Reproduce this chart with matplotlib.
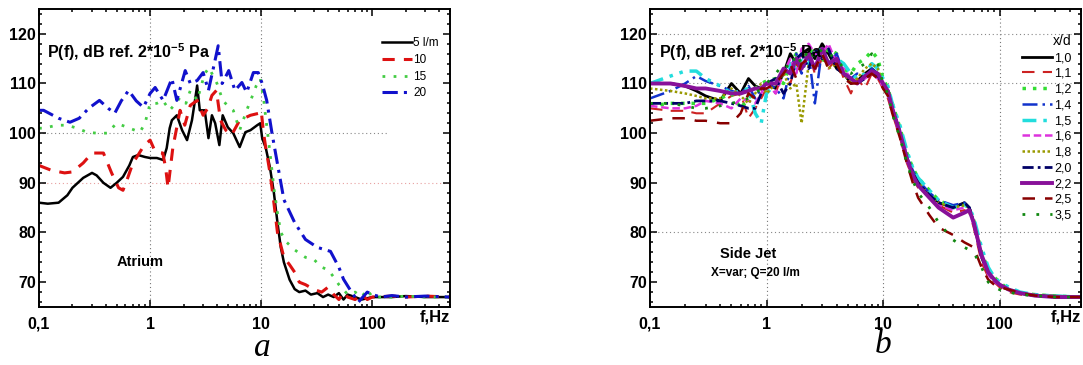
import matplotlib
matplotlib.use("Agg")
import matplotlib.pyplot as plt
from matplotlib.ticker import FixedLocator, MultipleLocator, LogLocator, NullFormatter

plt.rcParams['font.family'] = ['Liberation Sans', 'DejaVu Sans']
plt.rcParams['mathtext.fontset'] = 'custom'
plt.rcParams['mathtext.rm'] = 'Liberation Sans'
plt.rcParams['mathtext.bf'] = 'Liberation Sans:bold'

# ---------------- data: panel a (Atrium) ----------------
f_5 = [0.1, 0.12, 0.15, 0.18, 0.2, 0.25, 0.3, 0.33, 0.38, 0.44, 0.5, 0.57, 0.65, 0.7, 0.78, 0.9, 1.0, 1.15,
       1.31, 1.41, 1.5, 1.57, 1.74, 1.94, 2.15, 2.38, 2.55, 2.65, 2.8, 3.1, 3.35, 3.6, 3.85, 4.2, 4.5, 5.0,
       5.6, 6.4, 7.2, 8.0, 9.2, 9.8, 10.2, 11, 12, 13, 14, 15, 16, 18, 20, 22, 25, 28, 32, 36, 40, 45, 50,
       55, 60, 70, 80, 100, 150, 200, 300, 500]
p_5 = [86, 85.8, 86, 87.5, 89, 91, 92, 91.5, 90, 89, 90, 91.2, 93.5, 95.2, 95.6, 95.2, 95, 95,
       94.6, 97, 101, 102.6, 103.6, 100.6, 98.6, 102.6, 107, 109.6, 104.6, 104.6, 99, 103.6, 102, 97.6, 103.6, 101.2,
       100, 97.2, 100.2, 100.6, 101.6, 102, 99, 97, 93, 88, 82, 77, 74, 70.5, 68.6, 68, 68.3, 67.5, 67.8, 67, 67.5, 67, 67.8,
       66.5, 67.5, 67, 66.5, 67, 67, 67.2, 67, 67]

f_10 = [0.1, 0.13, 0.17, 0.2, 0.25, 0.3, 0.38, 0.45, 0.52, 0.57, 0.62, 0.7, 0.76, 0.88, 1.0, 1.1, 1.15, 1.3,
        1.38, 1.45, 1.6, 1.86, 2.05, 2.3, 2.65, 3.0, 3.3, 3.6, 3.95, 4.3, 4.8, 5.4, 6.4, 8.0, 9.5, 10, 10.5,
        11, 12, 13, 14, 16, 18, 20, 22, 25, 30, 35, 40, 45, 50, 55, 60, 70, 80, 90, 100, 150, 200, 300, 500]
p_10 = [93.5, 92.5, 92, 92.2, 94, 96, 96, 92, 89, 88.5, 90.6, 94, 95.2, 97.5, 98.6, 96.5, 96.2, 96,
        93, 89, 97, 104.6, 101.6, 105.6, 106.6, 103.6, 105, 107.6, 108.6, 102.6, 100.6, 99.6, 102.6, 103.6, 104, 104.5, 100,
        97, 92, 86, 80, 75, 73.5, 72, 70, 69.5, 68.5, 68, 69, 67.5, 66.5, 68, 67, 66.5, 67.5, 66.5, 67, 67.2, 67, 67.2, 67]

f_15 = [0.1, 0.11, 0.145, 0.18, 0.22, 0.27, 0.33, 0.41, 0.5, 0.62, 0.81, 0.9, 1.0, 1.15, 1.3, 1.5, 1.7, 1.86,
        2.1, 2.3, 2.65, 3.1, 3.4, 3.6, 4.0, 4.5, 5.0, 5.6, 6.4, 7.4, 8.5, 9.0, 9.8, 10.5, 11, 12, 13, 14, 15,
        17, 20, 25, 30, 35, 40, 45, 50, 55, 60, 70, 80, 90, 100, 150, 200, 300, 500]
p_15 = [101, 101, 101.6, 101.6, 101, 100.2, 100, 100, 102, 101.2, 100.2, 102, 106, 106, 106.6, 104.6, 106, 107.2,
        106, 108.6, 106.6, 112, 113.2, 112, 110, 106.6, 105.5, 104.6, 100.6, 104.6, 108, 109.5, 111, 107, 103, 96, 89, 84, 80,
        78, 76.5, 75, 74.5, 73, 72.5, 71, 69.5, 68.5, 67.5, 68, 67, 68.5, 67, 67, 67.2, 67, 67]

f_20 = [0.1, 0.11, 0.15, 0.19, 0.23, 0.28, 0.35, 0.42, 0.48, 0.55, 0.64, 0.75, 0.87, 1.0, 1.11, 1.31, 1.57, 1.74,
        2.07, 2.3, 2.65, 3.0, 3.35, 3.7, 4.1, 4.45, 5.1, 5.8, 6.7, 7.4, 8.5, 9.4, 10.2, 11.2, 12.5, 13.8, 16,
        20, 25, 32, 42, 50, 55, 65, 75, 90, 100, 120, 150, 200, 300, 500]
p_20 = [104.6, 104.6, 103, 102.2, 103, 105, 106.6, 105, 104, 106.5, 108.6, 106.5, 105.2, 108, 109.2, 106.6, 111, 106.6,
        112.6, 110, 110.6, 112.2, 108.6, 113, 117.6, 110, 112.6, 108.6, 110.2, 108.2, 112.2, 112.2, 110, 106.6, 100, 94.6, 86.6,
        82, 78.6, 77, 76.2, 73, 70.6, 68, 66, 68, 67.5, 67, 67.3, 67, 67.2, 67]

labels_a = ["5 l/m", "10", "15", "20"]

# ---------------- data: panel b (Side Jet) ----------------
f_b = [0.1, 0.15, 0.2, 0.25, 0.3, 0.4, 0.5, 0.6, 0.7, 0.8, 0.9, 1.0, 1.2, 1.4, 1.6, 1.8, 2.0, 2.3, 2.6, 3.0,
       3.4, 4.0, 4.6, 5.3, 6.0, 7.0, 8.0, 9.0, 10, 11, 12, 14, 16, 18, 20, 25, 30, 40, 50, 55,
       60, 70, 80, 90, 100, 120, 150, 200, 300, 500]
p_x10 = [110, 110, 109.5, 108.5, 107.5, 106.5, 110, 108, 111, 109.5, 109, 110, 109, 112, 116, 114, 116, 117, 115, 118,
         116, 113, 112, 110, 110.5, 112, 113, 112, 110, 108.5, 105, 100, 95, 92, 90, 87.5, 86, 85, 86, 85,
         82, 75, 72, 70.5, 69.5, 68.5, 67.8, 67.3, 67.2, 67]
p_x11 = [105, 104.5, 104.5, 104, 104, 106, 107.5, 108, 103, 105, 107, 109, 108, 113, 110, 114, 112, 116, 112, 115,
         113, 115, 111, 108, 111, 109, 112, 111, 109, 107, 104, 99, 94, 91, 89, 87, 85.5, 84, 84.5, 84,
         81, 74, 71, 70, 69, 68, 67.5, 67.2, 67, 67]
p_x12 = [105.5, 106, 106, 106, 106, 107, 108, 105, 107, 109, 110, 110.5, 111, 110, 114, 116, 113, 117, 116, 114,
         117, 116, 113, 112, 114, 115, 116.5, 115, 111, 109, 106, 101, 96, 93, 91, 88.5, 86.5, 85, 85.5, 84.5,
         82.5, 76, 72.5, 71, 70, 68.5, 67.8, 67.5, 67.2, 67]
p_x14 = [107, 108.5, 110, 111.5, 110.5, 109.5, 108.5, 108, 109.5, 107, 109, 110, 109, 107, 113, 116, 112, 116, 106, 117,
         114, 116, 112, 111, 112, 111, 113, 112, 110.5, 108.5, 105, 100.5, 95.5, 92.5, 90.5, 88, 86.5, 85.5, 86, 85,
         82, 75.5, 72, 70.5, 69.5, 68.5, 67.8, 67.3, 67.2, 67]
p_x15 = [110, 111.5, 112.5, 112.5, 111, 109.5, 108, 108.5, 109, 104, 102, 108, 110, 112, 114, 113, 115, 114, 116, 117,
         114, 115, 114, 112, 111, 112, 114, 113, 111, 109.5, 106, 101.5, 96.5, 93, 91, 88.5, 86.5, 85, 85.5, 85,
         83, 77, 73, 71, 70, 69, 68, 67.5, 67.2, 67]
p_x16 = [105.5, 105, 105, 105.5, 106.5, 106, 105, 107, 106.5, 106, 108, 110, 108, 112, 115, 112, 117, 118, 116, 116,
         118, 114, 113, 111, 110, 111, 112, 111, 109.5, 108, 104.5, 99.5, 94.5, 91.5, 89.5, 87, 85.5, 84.5, 85, 84.5,
         81.5, 75, 71.5, 70, 69.5, 68.5, 67.8, 67.3, 67, 67]
p_x18 = [109, 108.5, 108, 107.5, 107, 107, 109, 107.5, 106, 108, 110, 108, 110, 112, 109, 110, 102, 114, 113, 116,
         113, 114, 112, 110, 111, 113, 114, 113, 110, 108.5, 105, 100, 95, 92, 90, 87.5, 86, 85, 85.5, 85,
         82, 75.5, 72, 70.5, 69.5, 68.5, 67.8, 67.3, 67.2, 67]
p_x20 = [106, 106, 106, 106.5, 106.5, 106.5, 106, 105.5, 105, 105, 108, 110, 111, 108, 110, 115, 116, 113, 117, 115,
         117, 113, 112, 111, 110, 111, 112, 111.5, 110, 108.5, 105, 100, 95, 92, 90, 87.5, 86, 85, 86, 85,
         82, 75, 72, 70.5, 69.5, 68.5, 67.8, 67.3, 67, 67]
p_x22 = [110, 110, 109.5, 109, 109, 108.5, 108, 108, 108.5, 109, 109, 110, 110, 113, 112, 115, 113, 116, 113, 117,
         114, 115, 112, 111, 110, 111.5, 112.5, 112, 110, 108.5, 105, 100, 95, 91.5, 89.5, 87, 85, 83, 84, 84.5,
         82, 75.5, 72, 70.5, 69.5, 68.5, 67.8, 67.3, 67, 67]
p_x25 = [102.5, 103, 103, 102.5, 102.5, 102, 102, 104, 108, 107, 109, 109, 110, 112, 114, 111, 114, 115, 113, 116,
         113, 114, 111, 110, 110, 111, 112, 111, 109, 107.5, 104, 99, 94, 90, 87, 83.5, 81, 79.5, 78, 77.5,
         77, 73, 70.5, 69.5, 69, 68.5, 67.8, 67.3, 67, 67]
p_x35 = [106, 106, 105.5, 105, 105, 105.5, 106, 106.5, 107, 108, 109, 110, 112, 114, 113, 116, 114, 117, 115, 117,
         116, 115, 113, 112, 113, 114, 116, 114, 110, 108, 104, 99, 94, 90.5, 88, 85, 82, 78.5, 77, 76.5,
         76, 73, 70, 69, 68.5, 68, 67.5, 67.3, 67, 67]
labels_b = ["1,0", "1,1", "1,2", "1,4", "1,5", "1,6", "1,8", "2,0", "2,2", "2,5", "3,5"]

xticks = [0.1, 1, 10, 100]
xtick_labels = ["0,1", "1", "10", "100"]
yticks = [70, 80, 90, 100, 110, 120]

# ---------------- figure ----------------
fig = plt.figure(figsize=(10.83, 3.65), dpi=100)
W, H = 1083, 365
ax_a = fig.add_axes([39 / W, (H - 307) / H, 411 / W, 298 / H])
ax_b = fig.add_axes([650 / W, (H - 307) / H, 431 / W, 298 / H])


def style_axes(ax):
    ax.set_xscale('log')
    ax.set_xlim(0.1, 500)
    ax.set_ylim(65, 125)
    ax.xaxis.set_major_locator(FixedLocator(xticks))
    ax.set_xticklabels(xtick_labels)
    ax.xaxis.set_minor_locator(LogLocator(base=10, subs=range(2, 10)))
    ax.xaxis.set_minor_formatter(NullFormatter())
    ax.yaxis.set_major_locator(FixedLocator(yticks))
    ax.yaxis.set_minor_locator(MultipleLocator(2))
    ax.tick_params(which='both', direction='in', top=True, right=True, width=1.1)
    ax.tick_params(which='major', length=5, labelsize=11.5, pad=2)
    ax.tick_params(axis='x', which='major', pad=7)
    ax.tick_params(which='minor', length=2.5)
    for lab in ax.get_xticklabels() + ax.get_yticklabels():
        lab.set_fontweight('bold')
    for sp in ax.spines.values():
        sp.set_linewidth(1.4)
    ax.text(1.0, -0.035, "f,Hz", transform=ax.transAxes, ha='right', va='center',
            fontsize=12, fontweight='bold')
    ax.text(0.02, 0.855, "P(f), dB ref. 2*10$^{\\mathbf{-5}}$ Pa", transform=ax.transAxes,
            ha='left', va='center', fontsize=11.5, fontweight='bold', zorder=5)


style_axes(ax_a)
style_axes(ax_b)

gkw = dict(ls=(0, (1, 2.5)), lw=0.8, zorder=0)
ax_a.axvline(1, color='#777777', **gkw)
ax_a.axvline(10, color='#777777', **gkw)
ax_a.axhline(100, xmax=0.85, color='#888888', **gkw)
ax_a.axhline(90, color='#e8a0a0', **gkw)
for xv in [1, 10, 100]:
    ax_b.axvline(xv, color='#777777', **gkw)
for yv in [120, 110, 80]:
    ax_b.axhline(yv, color='#888888', **gkw)

# panel a curves
ax_a.plot(f_5, p_5, color='black', lw=1.8, label=labels_a[0])
ax_a.plot(f_10, p_10, color='#dd1111', lw=2.2, dashes=(4, 3), label=labels_a[1])
ax_a.plot(f_15, p_15, color='#44cc44', lw=2.0, dashes=(1, 3), label=labels_a[2])
ax_a.plot(f_20, p_20, color='#1111cc', lw=2.2, dashes=(5, 2, 1, 2), label=labels_a[3])
ax_a.legend(loc='upper left', bbox_to_anchor=(0.835, 0.905), frameon=False, fontsize=8.5,
            handlelength=2.5, handletextpad=0.15, labelspacing=0.4, borderpad=0, borderaxespad=0)
ax_a.text(0.246, 0.151, "Atrium", transform=ax_a.transAxes, ha='center', va='center',
          fontsize=10.5, fontweight='bold')

# panel b curves
series_b = [p_x10, p_x11, p_x12, p_x14, p_x15, p_x16, p_x18, p_x20, p_x22, p_x25, p_x35]
styles_b = [
    dict(color='black', lw=2.0, ls='-'),
    dict(color='#cc2222', lw=1.5, dashes=(6, 4)),
    dict(color='#33dd33', lw=2.5, dashes=(1, 2)),
    dict(color='#1133cc', lw=1.8, dashes=(6, 2, 1, 2)),
    dict(color='#22dddd', lw=2.5, dashes=(4, 2, 1, 2, 1, 2)),
    dict(color='#dd33dd', lw=1.8, dashes=(3, 1.5)),
    dict(color='#999900', lw=1.8, dashes=(1, 1)),
    dict(color='#000066', lw=2.0, dashes=(4, 1.5, 1, 1.5)),
    dict(color='#881199', lw=2.8, ls='-'),
    dict(color='#880000', lw=1.8, dashes=(5, 4)),
    dict(color='#118811', lw=2.0, dashes=(1, 4)),
]
for vals, st, lab in zip(series_b, styles_b, labels_b):
    ax_b.plot(f_b, vals, label=lab, **st)
ax_b.legend(loc='upper right', bbox_to_anchor=(0.978, 0.915), frameon=False, fontsize=9,
            title="x/d", title_fontsize=10, alignment='right',
            handlelength=2.4, handletextpad=0.15, labelspacing=0.3, borderpad=0, borderaxespad=0)
ax_b.text(0.227, 0.178, "Side Jet", transform=ax_b.transAxes, ha='center', va='center',
          fontsize=10.5, fontweight='bold')
ax_b.text(0.245, 0.114, "X=var; Q=20 l/m", transform=ax_b.transAxes, ha='center', va='center',
          fontsize=8.5, fontweight='bold')

fig.text(262 / W, 1 - 348 / H, "a", ha='center', va='center', fontsize=24,
         family='Liberation Serif', style='italic')
fig.text(883 / W, 1 - 345 / H, "b", ha='center', va='center', fontsize=24,
         family='Liberation Serif', style='italic')

fig.savefig("out.png", dpi=100)
